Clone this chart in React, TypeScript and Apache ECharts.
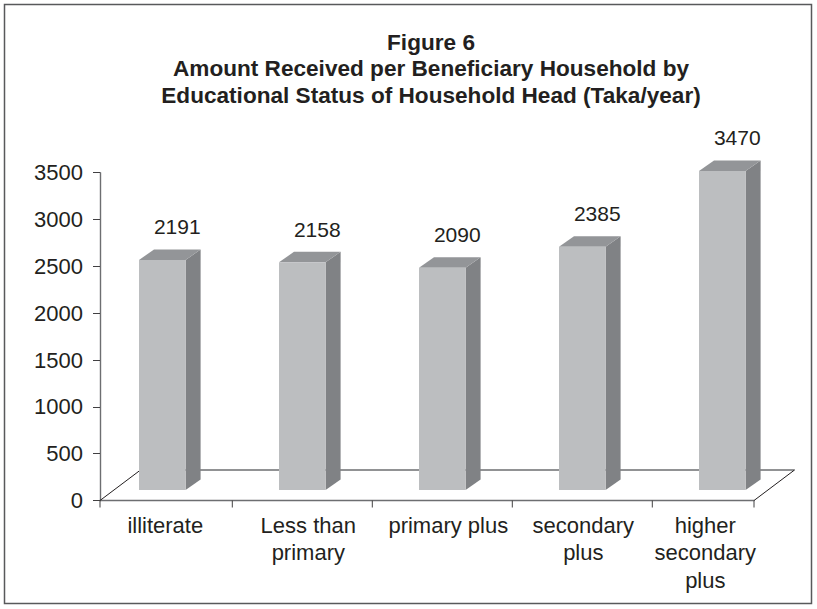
import React, { useEffect, useRef } from "react";
import * as echarts from "echarts";

// ---- data ----
const titleLines = [
  "Figure 6",
  "Amount Received per Beneficiary Household by",
  "Educational Status of Household Head (Taka/year)",
];
const categories = [
  "illiterate",
  "Less than\nprimary",
  "primary plus",
  "secondary\nplus",
  "higher\nsecondary\nplus",
];
// bar heights as drawn, read against the value axis
const barHeights = [2456, 2431, 2374, 2598, 3406];
// numbers printed above the bars
const printedLabels = [2191, 2158, 2090, 2385, 3470];
const yMin = 0;
const yMax = 3500;
const yStep = 500;

const FONT = "'Liberation Sans', Arial, Helvetica, sans-serif";
const TEXT = "#231f20";
const TICK = "#414042";

export default function App() {
  const ref = useRef<HTMLDivElement>(null);

  useEffect(() => {
    if (!ref.current) return;
    const chart = echarts.init(ref.current, null, { renderer: "svg" });

    const floorRender = (params: any, api: any) => {
      const n = categories.length;
      const first = api.coord([0, 0]);
      const last = api.coord([n - 1, 0]);
      const bw = api.size([1, 0])[0];
      const left = first[0] - bw / 2;
      const right = last[0] + bw / 2;
      const y = first[1];
      const dx = 40.5;
      const dy = -30.5;
      return {
        type: "group",
        children: [
          {
            type: "line",
            shape: { x1: left + dx, y1: y + dy, x2: right + dx, y2: y + dy },
            style: { stroke: "#6d6e71", lineWidth: 1.6 },
          },
          {
            type: "line",
            shape: { x1: left, y1: y, x2: left + dx, y2: y + dy },
            style: { stroke: "#231f20", lineWidth: 1 },
          },
          {
            type: "line",
            shape: { x1: right, y1: y, x2: right + dx, y2: y + dy },
            style: { stroke: "#231f20", lineWidth: 1 },
          },
          {
            type: "line",
            shape: { x1: left, y1: y, x2: left, y2: y + 7 },
            style: { stroke: TICK, lineWidth: 1 },
          },
          {
            type: "line",
            shape: { x1: right, y1: y, x2: right, y2: y + 7 },
            style: { stroke: TICK, lineWidth: 1 },
          },
        ],
      };
    };

    const barRender = (params: any, api: any) => {
      const i = api.value(0);
      const v = api.value(1);
      const lbl = api.value(2);
      const top = api.coord([i, v]);
      const base = api.coord([i, 0]);
      const bw = api.size([1, 0])[0];
      const half = 23.3;
      const lift = 10.5; // bars sit back from the front edge of the floor
      const ddx = 15;
      const ddy = -10.5;
      const x0 = top[0] - half;
      const x1 = top[0] + half;
      const yT = top[1] - lift;
      const yB = base[1] - lift;
      const children: any[] = [
        {
          type: "polygon",
          shape: {
            points: [
              [x1, yT],
              [x1 + ddx, yT + ddy],
              [x1 + ddx, yB + ddy],
              [x1, yB],
            ],
          },
          style: { fill: "#808285" },
        },
        {
          type: "polygon",
          shape: {
            points: [
              [x0, yT],
              [x0 + ddx, yT + ddy],
              [x1 + ddx, yT + ddy],
              [x1, yT],
            ],
          },
          style: { fill: "#939598" },
        },
        {
          type: "rect",
          shape: { x: x0, y: yT, width: x1 - x0, height: yB - yT },
          style: { fill: "#bcbec0" },
        },
        {
          type: "text",
          x: top[0] + ddx,
          y: yT + ddy - 22.7,
          style: {
            text: String(lbl),
            fontSize: 21,
            fontFamily: FONT,
            fill: TEXT,
            align: "center",
            verticalAlign: "middle",
          },
        },
      ];
      if (i < categories.length - 1) {
        const tx = top[0] + bw / 2;
        children.push({
          type: "line",
          shape: { x1: tx, y1: base[1], x2: tx, y2: base[1] + 7 },
          style: { stroke: TICK, lineWidth: 1 },
        });
      }
      return { type: "group", children };
    };

    // small horizontal nudges of the category labels (left pad, right pad)
    const labelPads = [
      [6, 0],
      [12, 0],
      [12, 0],
      [2, 0],
      [0, 34],
    ];
    const rich: any = {};
    labelPads.forEach((p, i) => {
      rich["c" + i] = {
        fontSize: 22,
        lineHeight: 27.5,
        fontFamily: FONT,
        color: TEXT,
        padding: [0, p[1], 0, p[0]],
      };
    });

    const option: any = {
      animation: false,
      backgroundColor: "#ffffff",
      graphic: [
        {
          type: "rect",
          shape: { x: 4.5, y: 4.5, width: 807, height: 599 },
          style: { fill: "none", stroke: "#58595b", lineWidth: 1.5 },
          z: -10,
        },
        {
          type: "text",
          x: 431,
          y: 29,
          style: {
            text: titleLines.join("\n"),
            fontSize: 22.6,
            fontWeight: "bold",
            fontFamily: FONT,
            fill: TEXT,
            align: "center",
            verticalAlign: "top",
            lineHeight: 26.5,
          },
        },
      ],
      grid: [
        { left: 100, right: 63, top: 172.7, bottom: 108.5 },
        { left: 92.3, right: 24.7, top: 172.7, bottom: 108.5 },
      ],
      xAxis: [
        {
          gridIndex: 0,
          type: "category",
          data: categories,
          boundaryGap: true,
          axisLine: { show: true, lineStyle: { color: "#6d6e71", width: 1.4 } },
          axisTick: { show: false },
          axisLabel: { show: false },
          splitLine: { show: false },
        },
        {
          gridIndex: 1,
          type: "category",
          data: categories,
          boundaryGap: true,
          axisLine: { show: false },
          axisTick: { show: false },
          axisLabel: {
            show: true,
            interval: 0,
            fontSize: 22,
            lineHeight: 27.5,
            fontFamily: FONT,
            color: TEXT,
            margin: 11,
            formatter: (value: string, index: number) =>
              value
                .split("\n")
                .map((l) => `{c${index}|${l}}`)
                .join("\n"),
            rich,
          },
          splitLine: { show: false },
        },
      ],
      yAxis: [
        {
          gridIndex: 0,
          type: "value",
          min: yMin,
          max: yMax,
          interval: yStep,
          axisLine: { show: true, lineStyle: { color: "#6d6e71", width: 1.4 } },
          axisTick: { show: true, length: 7, lineStyle: { color: TICK, width: 1 } },
          axisLabel: {
            fontSize: 22,
            fontFamily: FONT,
            color: TEXT,
            margin: 17,
            formatter: (v: number) => String(v),
          },
          splitLine: { show: false },
        },
        {
          gridIndex: 1,
          type: "value",
          min: yMin,
          max: yMax,
          interval: yStep,
          show: false,
          splitLine: { show: false },
        },
      ],
      series: [
        {
          type: "custom",
          name: "floor",
          xAxisIndex: 0,
          yAxisIndex: 0,
          data: [[0, 0]],
          renderItem: floorRender,
          silent: true,
          z: 1,
        },
        {
          type: "custom",
          name: "bars",
          xAxisIndex: 1,
          yAxisIndex: 1,
          encode: { x: 0, y: 1 },
          data: barHeights.map((v, i) => [i, v, printedLabels[i]]),
          renderItem: barRender,
          z: 2,
        },
      ],
    };

    chart.setOption(option);
    return () => chart.dispose();
  }, []);

  return (
    <div
      ref={ref}
      style={{
        position: "fixed",
        left: 0,
        top: 0,
        width: 817,
        height: 609,
        background: "#ffffff",
      }}
    />
  );
}
